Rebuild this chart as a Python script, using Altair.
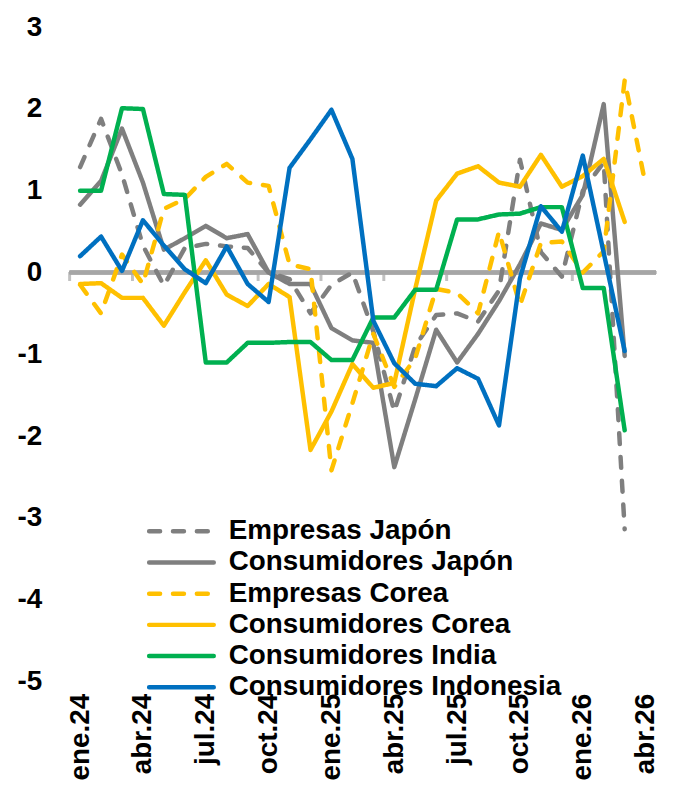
import altair as alt
import pandas as pd

months = ["ene.24", "feb.24", "mar.24", "abr.24", "may.24", "jun.24", "jul.24", "ago.24",
          "sep.24", "oct.24", "nov.24", "dic.24", "ene.25", "feb.25", "mar.25", "abr.25",
          "may.25", "jun.25", "jul.25", "ago.25", "sep.25", "oct.25", "nov.25", "dic.25",
          "ene.26", "feb.26", "mar.26", "abr.26"]

series_names = ["Empresas Japón", "Consumidores Japón", "Empresas Corea",
                "Consumidores Corea", "Consumidores India", "Consumidores Indonesia"]

empresas_japon = [1.29, 1.88, 1.2, 0.33, -0.16, 0.3, 0.35, 0.32, 0.3, 0.0, -0.08, -0.5, -0.15,
                  0.0, -0.72, -1.7, -0.9, -0.52, -0.5, -0.6, -0.22, 1.38, 0.25, -0.05, 1.0, 1.35,
                  -3.14]
consumidores_japon = [0.83, 1.12, 1.76, 1.1, 0.28, 0.42, 0.57, 0.42, 0.47, 0.0, -0.14, -0.14,
                      -0.68, -0.83, -0.86, -2.38, -1.55, -0.7, -1.1, -0.75, -0.35, 0.1, 0.6,
                      0.52, 0.95, 2.06, -1.02]
empresas_corea = [-0.15, -0.5, 0.22, -0.14, 0.78, 0.9, 1.17, 1.33, 1.1, 1.06, 0.1, 0.04, -2.42,
                  -1.6, -0.75, -1.4, -1.05, -0.2, -0.25, -0.5, 0.5, -0.4, 0.36, 0.38, 0.0, 0.26,
                  2.35, 1.07]
consumidores_corea = [-0.14, -0.13, -0.31, -0.31, -0.65, -0.24, 0.15, -0.27, -0.41, -0.14, -0.3,
                      -2.17, -1.7, -1.12, -1.41, -1.35, -0.2, 0.88, 1.21, 1.3, 1.1, 1.05, 1.44,
                      1.05, 1.18, 1.39, 0.62]
consumidores_india = [1.0, 1.0, 2.01, 2.0, 0.96, 0.95, -1.1, -1.1, -0.86, -0.86, -0.85, -0.85,
                      -1.07, -1.07, -0.55, -0.55, -0.21, -0.21, 0.65, 0.65, 0.71, 0.72, 0.8, 0.8,
                      -0.19, -0.19, -1.93]
consumidores_indonesia = [0.2, 0.44, 0.02, 0.64, 0.33, 0.04, -0.13, 0.32, -0.14, -0.36, 1.28,
                          1.63, 1.99, 1.39, -0.59, -1.11, -1.36, -1.39, -1.17, -1.3, -1.87, -0.07,
                          0.81, 0.5, 1.43, 0.24, -0.96]

y_ticks = [-5, -4, -3, -2, -1, 0, 1, 2, 3]

# styles
series_colors = ["#7F7F7F", "#7F7F7F", "#FFC000", "#FFC000", "#00B050", "#0070C0"]
series_dash = [[11, 13], [1, 0], [11, 13], [1, 0], [1, 0], [1, 0]]
FONT = "Liberation Sans"
FS = 28
LW = 4.5
# legend layout (pixels inside the plot area)
LEG_X0, LEG_X1, LEG_TEXT_X, LEG_Y0, LEG_ROW = 80, 145, 160, 507, 31.4

all_values = [empresas_japon, consumidores_japon, empresas_corea, consumidores_corea,
              consumidores_india, consumidores_indonesia]
rows = []
for name, vals in zip(series_names, all_values):
    for i, v in enumerate(vals):
        rows.append({"series": name, "i": i, "mes": months[i], "value": v})
df = pd.DataFrame(rows)
legend_df = pd.DataFrame({"series": series_names, "row": list(range(len(series_names)))})

label_idx = list(range(0, len(months), 3))
boundaries = pd.DataFrame({"b": [k - 0.5 for k in label_idx[:-1]]})
label_expr = "[" + ",".join("'" + m + "'" for m in months) + "][datum.value]"

x_scale = alt.Scale(domain=[-0.5, len(months) - 0.5], nice=False, zero=False)
y_scale = alt.Scale(domain=[y_ticks[0], y_ticks[-1]], nice=False, zero=False)

x_axis = alt.Axis(values=label_idx, labelExpr=label_expr, labelAngle=270, labelAlign="right",
                  labelBaseline="middle", domain=False, ticks=False, grid=False,
                  labelFontSize=FS, labelFontWeight="bold", labelFont=FONT, labelColor="#000000",
                  labelPadding=12, title=None)
y_axis = alt.Axis(values=y_ticks, labelExpr="toString(datum.value)", domain=False, ticks=False,
                  grid=False, labelFontSize=FS, labelFontWeight="bold", labelFont=FONT,
                  labelColor="#000000", labelPadding=28, title=None)

color = alt.Color("series:N", scale=alt.Scale(domain=series_names, range=series_colors),
                  legend=None)
dash = alt.StrokeDash("series:N", scale=alt.Scale(domain=series_names, range=series_dash),
                      legend=None)

zero_line = alt.Chart(boundaries).mark_rule(color="#A6A6A6", strokeWidth=3.5).encode(
    x=alt.datum(-0.5, scale=x_scale, axis=x_axis),
    x2=alt.datum(len(months) - 0.5),
    y=alt.datum(0, scale=y_scale, axis=y_axis),
)
ticks = alt.Chart(boundaries).mark_tick(orient="vertical", size=9, thickness=3,
                                         color="#A6A6A6", yOffset=4).encode(
    x=alt.X("b:Q", scale=x_scale, axis=x_axis),
    y=alt.datum(0),
)

layers = [zero_line, ticks]
for name in series_names:
    layers.append(
        alt.Chart(df).transform_filter(alt.datum.series == name)
        .mark_line(strokeWidth=LW, strokeJoin="round", strokeCap="round")
        .encode(
            x=alt.X("i:Q", scale=x_scale, axis=x_axis),
            y=alt.Y("value:Q", scale=y_scale, axis=y_axis),
            color=color,
            strokeDash=dash,
        )
    )

# legend drawn as marks
for k, name in enumerate(series_names):
    ypix = LEG_Y0 + LEG_ROW * k
    base = alt.Chart(legend_df).transform_filter(alt.datum.series == name)
    layers.append(
        base.mark_rule(strokeWidth=LW, strokeCap="round").encode(
            x=alt.value(LEG_X0), x2=alt.value(LEG_X1), y=alt.value(ypix),
            color=alt.value(series_colors[k]), strokeDash=alt.value(series_dash[k]),
        )
    )
    layers.append(
        base.mark_text(align="left", baseline="middle", font=FONT, fontSize=FS,
                       fontWeight="bold", color="#000000").encode(
            x=alt.value(LEG_TEXT_X), y=alt.value(ypix), text="series:N",
        )
    )

chart = alt.layer(*layers).properties(
    width=590, height=658,
    autosize=alt.AutoSizeParams(type="none"),
    padding={"left": 62, "top": 17, "right": 16, "bottom": 115},
).configure_view(strokeWidth=0)

chart.save("out.html", embed_options={"renderer": "svg", "actions": False})
